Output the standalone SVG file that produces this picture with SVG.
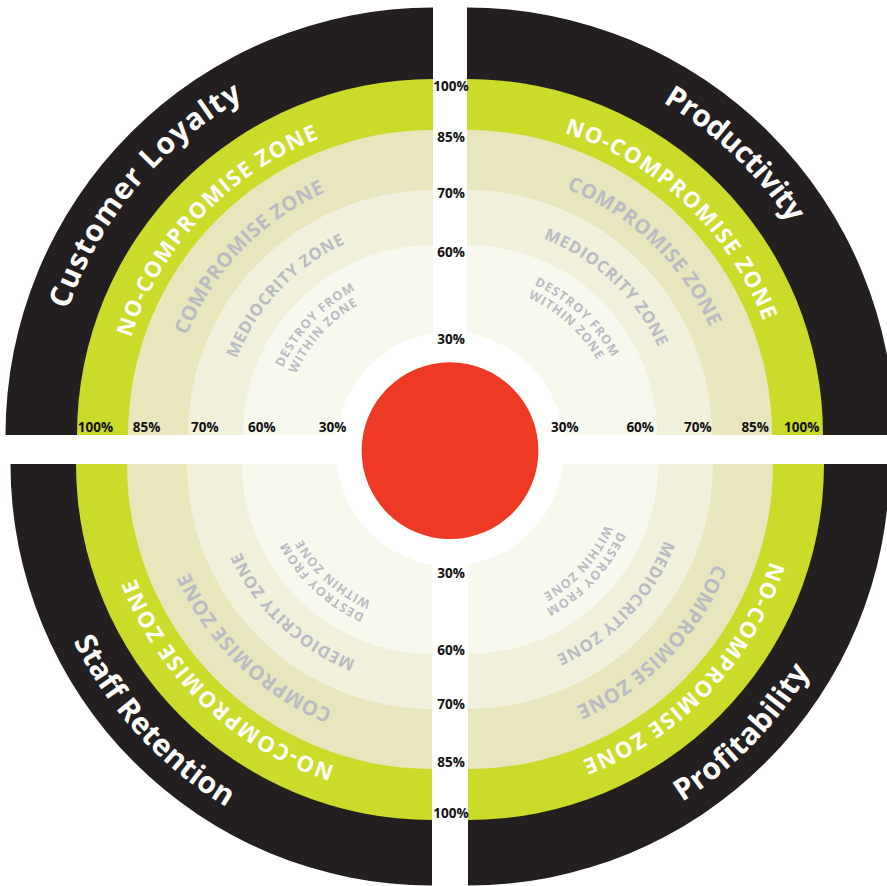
<svg xmlns="http://www.w3.org/2000/svg" xmlns:xlink="http://www.w3.org/1999/xlink" width="887" height="886" viewBox="0 0 887 886">
<style>
.blk{fill:#231f20}.grn{fill:#cbdb2a}.cmp{fill:#e7e6bd}.med{fill:#f1f0da}.dst{fill:#f7f9ef}
text{font-family:"Open Sans","Liberation Sans",sans-serif;font-weight:700}
.title{font-size:30px;fill:#ffffff}
.nc{font-size:22px;fill:#ffffff}
.cz{font-size:20px;fill:#babcc3}
.mz{font-size:16.5px;fill:#babcc3}
.dz{font-size:12.5px;fill:#babcc3}
.pct{font-size:13.5px;fill:#111111;text-anchor:middle}
.mid{text-anchor:middle}
</style>
<defs>
<path id="tl-title" d="M47,435 A386,386 0 0 1 433,49"/>
<path id="tl-nc" d="M115.5,435 A317.5,317.5 0 0 1 433,117.5"/>
<path id="tl-c" d="M167.5,435 A265.5,265.5 0 0 1 433,169.5"/>
<path id="tl-m" d="M222.4,435 A210.6,210.6 0 0 1 433,224.4"/>
<path id="tl-d1" d="M268.5,435 A164.5,164.5 0 0 1 433,270.5"/>
<path id="tl-d2" d="M283,435 A150,150 0 0 1 433,285"/>
<path id="tr-title" d="M467,49 A386,386 0 0 1 853,435"/>
<path id="tr-nc" d="M467,117.5 A317.5,317.5 0 0 1 784.5,435"/>
<path id="tr-c" d="M467,169.5 A265.5,265.5 0 0 1 732.5,435"/>
<path id="tr-m" d="M467,224.4 A210.6,210.6 0 0 1 677.6,435"/>
<path id="tr-d1" d="M467,270.5 A164.5,164.5 0 0 1 631.5,435"/>
<path id="tr-d2" d="M467,285 A150,150 0 0 1 617,435"/>
<path id="br-title" d="M468,864 A400,400 0 0 0 868,464"/>
<path id="br-nc" d="M785.5,464 A317.5,317.5 0 0 1 468,781.5"/>
<path id="br-c" d="M733.5,464 A265.5,265.5 0 0 1 468,729.5"/>
<path id="br-m" d="M678.6,464 A210.6,210.6 0 0 1 468,674.6"/>
<path id="br-d1" d="M632.5,464 A164.5,164.5 0 0 1 468,628.5"/>
<path id="br-d2" d="M618,464 A150,150 0 0 1 468,614"/>
<path id="bl-title" d="M32,464 A400,400 0 0 0 432,864"/>
<path id="bl-nc" d="M432,781.5 A317.5,317.5 0 0 1 114.5,464"/>
<path id="bl-c" d="M432,729.5 A265.5,265.5 0 0 1 166.5,464"/>
<path id="bl-m" d="M432,674.6 A210.6,210.6 0 0 1 221.4,464"/>
<path id="bl-d1" d="M432,628.5 A164.5,164.5 0 0 1 267.5,464"/>
<path id="bl-d2" d="M432,614 A150,150 0 0 1 282,464"/>
</defs>
<rect width="887" height="886" fill="#ffffff"/>

<g id="q-customer-loyalty">
<path class="blk" d="M433,435 L5.5,435 A427.5,427.5 0 0 1 433,7.5 Z"/>
<path class="grn" d="M433,435 L77,435 A356,356 0 0 1 433,79 Z"/>
<path class="cmp" d="M433,435 L128,435 A305,305 0 0 1 433,130 Z"/>
<path class="med" d="M433,435 L188,435 A245,245 0 0 1 433,190 Z"/>
<path class="dst" d="M433,435 L243,435 A190,190 0 0 1 433,245 Z"/>
<text class="title mid"><textPath href="#tl-title" startOffset="267.6" textLength="280" lengthAdjust="spacing">Customer Loyalty</textPath></text>
<text class="nc mid"><textPath href="#tl-nc" startOffset="240.4" textLength="283" lengthAdjust="spacing">NO-COMPROMISE ZONE</textPath></text>
<text class="cz mid"><textPath href="#tl-c" startOffset="203.9" textLength="204" lengthAdjust="spacing">COMPROMISE ZONE</textPath></text>
<text class="mz mid"><textPath href="#tl-m" startOffset="158.9" textLength="162" lengthAdjust="spacing">MEDIOCRITY ZONE</textPath></text>
<text class="dz mid"><textPath href="#tl-d1" startOffset="123.2" textLength="108" lengthAdjust="spacing">DESTROY FROM</textPath></text>
<text class="dz mid"><textPath href="#tl-d2" startOffset="109.7" textLength="94" lengthAdjust="spacing">WITHIN ZONE</textPath></text>
</g>

<g id="q-productivity">
<path class="blk" d="M467,435 L467,7.5 A427.5,427.5 0 0 1 894.5,435 Z"/>
<path class="grn" d="M467,435 L467,79 A356,356 0 0 1 823,435 Z"/>
<path class="cmp" d="M467,435 L467,130 A305,305 0 0 1 772,435 Z"/>
<path class="med" d="M467,435 L467,190 A245,245 0 0 1 712,435 Z"/>
<path class="dst" d="M467,435 L467,245 A190,190 0 0 1 657,435 Z"/>
<text class="title mid"><textPath href="#tr-title" startOffset="293.7" textLength="177" lengthAdjust="spacing">Productivity</textPath></text>
<text class="nc mid"><textPath href="#tr-nc" startOffset="240.4" textLength="283" lengthAdjust="spacing">NO-COMPROMISE ZONE</textPath></text>
<text class="cz mid"><textPath href="#tr-c" startOffset="203.9" textLength="204" lengthAdjust="spacing">COMPROMISE ZONE</textPath></text>
<text class="mz mid"><textPath href="#tr-m" startOffset="158.9" textLength="162" lengthAdjust="spacing">MEDIOCRITY ZONE</textPath></text>
<text class="dz mid"><textPath href="#tr-d1" startOffset="123.2" textLength="108" lengthAdjust="spacing">DESTROY FROM</textPath></text>
<text class="dz mid"><textPath href="#tr-d2" startOffset="109.7" textLength="94" lengthAdjust="spacing">WITHIN ZONE</textPath></text>
</g>

<g id="q-profitability">
<path class="blk" d="M468,464 L889.5,464 A421.5,421.5 0 0 1 468,885.5 Z"/>
<path class="grn" d="M468,464 L824,464 A356,356 0 0 1 468,820 Z"/>
<path class="cmp" d="M468,464 L773,464 A305,305 0 0 1 468,769 Z"/>
<path class="med" d="M468,464 L713,464 A245,245 0 0 1 468,709 Z"/>
<path class="dst" d="M468,464 L658,464 A190,190 0 0 1 468,654 Z"/>
<text class="title mid"><textPath href="#br-title" startOffset="317.9" textLength="184" lengthAdjust="spacing">Profitability</textPath></text>
<text class="nc mid"><textPath href="#br-nc" startOffset="240.4" textLength="283" lengthAdjust="spacing">NO-COMPROMISE ZONE</textPath></text>
<text class="cz mid"><textPath href="#br-c" startOffset="203.9" textLength="204" lengthAdjust="spacing">COMPROMISE ZONE</textPath></text>
<text class="mz mid"><textPath href="#br-m" startOffset="158.9" textLength="162" lengthAdjust="spacing">MEDIOCRITY ZONE</textPath></text>
<text class="dz mid"><textPath href="#br-d1" startOffset="123.2" textLength="108" lengthAdjust="spacing">DESTROY FROM</textPath></text>
<text class="dz mid"><textPath href="#br-d2" startOffset="109.7" textLength="94" lengthAdjust="spacing">WITHIN ZONE</textPath></text>
</g>

<g id="q-staff-retention">
<path class="blk" d="M432,464 L432,885.5 A421.5,421.5 0 0 1 10.5,464 Z"/>
<path class="grn" d="M432,464 L432,820 A356,356 0 0 1 76,464 Z"/>
<path class="cmp" d="M432,464 L432,769 A305,305 0 0 1 127,464 Z"/>
<path class="med" d="M432,464 L432,709 A245,245 0 0 1 187,464 Z"/>
<path class="dst" d="M432,464 L432,654 A190,190 0 0 1 242,464 Z"/>
<text class="title mid"><textPath href="#bl-title" startOffset="298" textLength="229" lengthAdjust="spacing">Staff Retention</textPath></text>
<text class="nc mid"><textPath href="#bl-nc" startOffset="240.4" textLength="283" lengthAdjust="spacing">NO-COMPROMISE ZONE</textPath></text>
<text class="cz mid"><textPath href="#bl-c" startOffset="203.9" textLength="204" lengthAdjust="spacing">COMPROMISE ZONE</textPath></text>
<text class="mz mid"><textPath href="#bl-m" startOffset="158.9" textLength="162" lengthAdjust="spacing">MEDIOCRITY ZONE</textPath></text>
<text class="dz mid"><textPath href="#bl-d1" startOffset="123.2" textLength="108" lengthAdjust="spacing">DESTROY FROM</textPath></text>
<text class="dz mid"><textPath href="#bl-d2" startOffset="109.7" textLength="94" lengthAdjust="spacing">WITHIN ZONE</textPath></text>
</g>

<g id="center">
<ellipse cx="450" cy="449" rx="114.5" ry="117" fill="#ffffff"/>
<circle cx="450" cy="450.7" r="88.4" fill="#ee3a25"/>
</g>

<g id="scale-labels">
<text class="pct" x="95.5" y="432">100%</text>
<text class="pct" x="146.5" y="432">85%</text>
<text class="pct" x="204.8" y="432">70%</text>
<text class="pct" x="261.8" y="432">60%</text>
<text class="pct" x="332.5" y="432">30%</text>
<text class="pct" x="564.8" y="432">30%</text>
<text class="pct" x="640.2" y="432">60%</text>
<text class="pct" x="697.8" y="432">70%</text>
<text class="pct" x="755.2" y="432">85%</text>
<text class="pct" x="801.7" y="432">100%</text>
<text class="pct" x="451" y="91">100%</text>
<text class="pct" x="451" y="142">85%</text>
<text class="pct" x="451" y="197.5">70%</text>
<text class="pct" x="451" y="257">60%</text>
<text class="pct" x="451" y="343.5">30%</text>
<text class="pct" x="451" y="577.5">30%</text>
<text class="pct" x="451" y="655">60%</text>
<text class="pct" x="451" y="709">70%</text>
<text class="pct" x="451" y="766.5">85%</text>
<text class="pct" x="451" y="817.5">100%</text>
</g>
</svg>
